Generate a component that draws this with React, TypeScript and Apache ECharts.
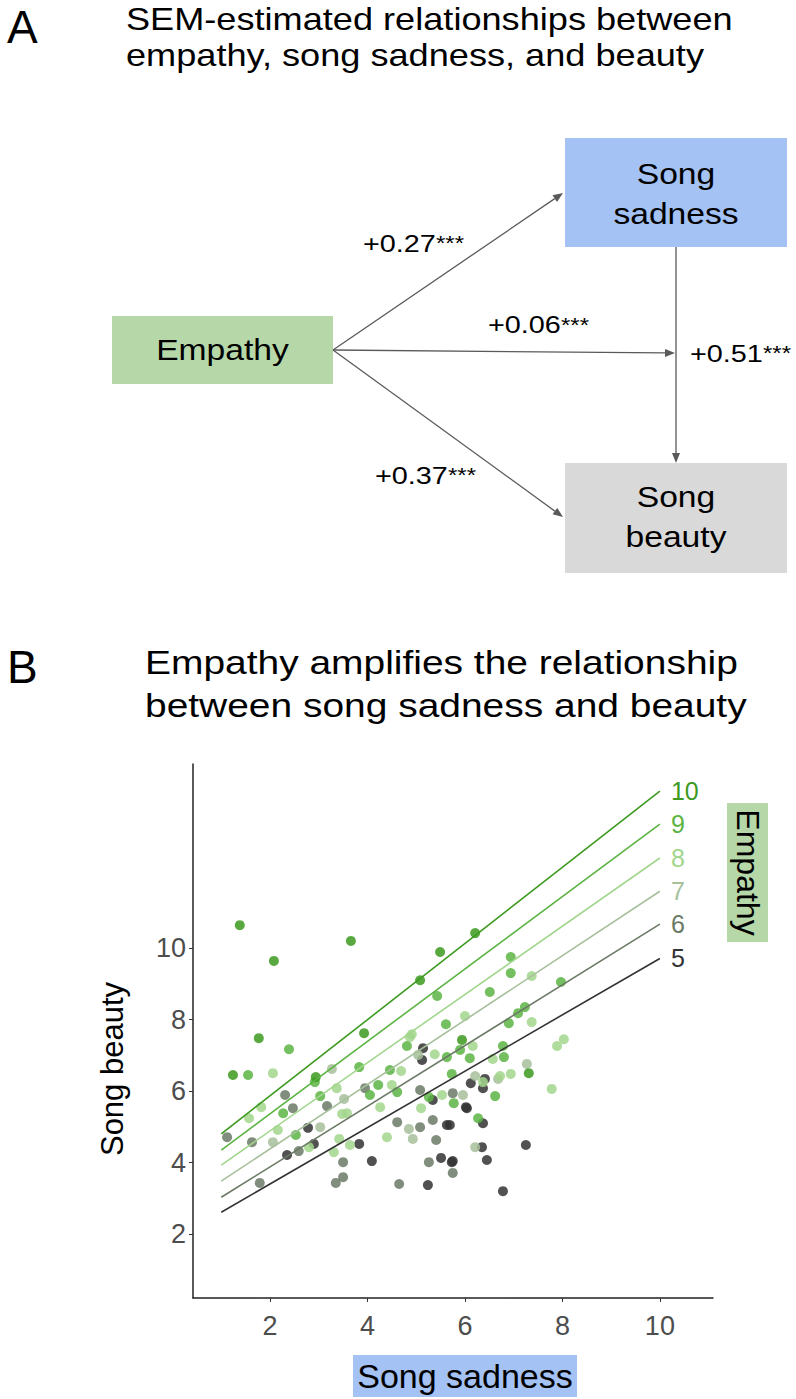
import React, { useEffect, useRef } from "react";
import * as echarts from "echarts";

// ---------- data ----------
const xTicks = [2, 4, 6, 8, 10];
const yTicks = [2, 4, 6, 8, 10];
const empathyLevels = [5, 6, 7, 8, 9, 10];
const fitX = [1, 10];
// predicted beauty at sadness = 1 and sadness = 10, per empathy level (5..10)
const fitAtStart = [2.61, 3.03, 3.48, 3.93, 4.35, 4.8];
const fitAtEnd = [9.71, 10.67, 11.59, 12.52, 13.47, 14.39];

const pts5: [number, number][] = [
  [6.41, 6.34], [6.12, 6.22], [6.37, 6.08], [6.04, 5.52], [6.37, 5.1], [5.69, 5.05],
  [6.35, 4.43], [7.25, 4.49], [5.75, 4.04], [6.45, 4.07], [6.78, 3.2], [2.35, 4.21],
  [2.78, 4.97], [2.9, 4.52], [3.83, 4.52], [4.09, 4.04], [5.14, 7.2], [5.12, 6.87],
  [5.24, 3.37], [5.34, 5.75], [5.51, 4.13], [5.63, 5.05], [5.73, 4.01], [6.02, 5.55],
];
const pts6: [number, number][] = [
  [5.75, 5.94], [5.75, 3.71], [1.12, 4.71], [2.31, 5.89], [2.47, 5.52], [1.63, 4.57],
  [1.79, 3.43], [2.59, 4.32], [3.17, 5.58], [3.5, 4.01], [3.5, 3.59], [3.35, 3.43],
  [3.95, 6.08], [4.61, 5.13], [4.65, 3.4], [5.08, 6.03], [5.08, 4.99], [5.26, 4.01],
  [5.41, 4.63], [5.34, 5.19],
];
const pts7: [number, number][] = [
  [6.21, 6.42], [6.68, 6.34], [7.27, 6.76], [5.96, 5.89], [6.21, 4.43], [2.06, 4.57],
  [3.03, 4.99], [3.27, 6.62], [3.52, 5.78], [4.93, 4.66], [5.04, 7.01], [4.85, 4.94],
];
const pts8: [number, number][] = [
  [7.37, 9.22], [6.0, 8.1], [7.37, 7.93], [6.16, 7.26], [6.57, 6.9], [7.89, 7.26],
  [8.03, 7.45], [6.37, 6.25], [6.72, 6.42], [6.94, 6.48], [7.78, 6.06], [2.06, 6.5],
  [1.57, 5.24], [1.82, 5.55], [2.16, 4.91], [2.8, 4.43], [3.37, 6.08], [3.48, 5.36],
  [3.58, 5.38], [3.31, 4.29], [3.64, 4.49], [4.26, 5.55], [4.4, 4.71], [4.5, 6.17],
  [4.69, 6.56], [4.87, 7.51], [4.91, 7.59], [5.1, 5.52], [5.38, 7.03], [5.53, 5.89],
  [3.42, 4.66],
];
const pts9: [number, number][] = [
  [5.43, 8.66], [6.51, 8.77], [6.94, 9.75], [6.94, 9.3], [7.97, 9.05], [7.23, 8.35],
  [7.09, 8.18], [6.9, 7.9], [5.9, 7.15], [6.78, 7.26], [6.8, 6.95], [6.1, 6.92],
  [5.73, 6.48], [6.62, 5.86], [5.77, 5.66], [6.27, 5.24], [2.39, 7.17], [1.55, 6.45],
  [2.27, 5.38], [2.53, 4.77], [2.92, 6.25], [3.03, 5.86], [3.83, 6.67], [4.05, 5.89],
  [4.22, 6.17], [4.46, 6.59], [4.61, 5.97], [4.81, 7.26], [5.26, 5.83], [5.63, 6.95],
  [5.61, 7.87],
];
const pts10: [number, number][] = [
  [1.38, 10.64], [2.08, 9.64], [3.66, 10.2], [5.49, 9.89], [6.21, 10.42], [5.08, 9.1],
  [5.94, 7.43], [7.31, 6.5], [1.77, 7.48], [3.93, 7.62], [1.24, 6.45], [2.94, 6.39],
];
const pointsByLevel = [pts5, pts6, pts7, pts8, pts9, pts10];

// SEM path coefficients: empathy->sadness, empathy->beauty (direct, to arrow), sadness->beauty, empathy->beauty
const pathCoefs = ["+0.27", "+0.06", "+0.51", "+0.37"];
const pathStars = ["***", "***", "***", "***"];

// ---------- styles ----------
const FONT = "'Liberation Sans', Arial, Helvetica, sans-serif";
const levelColors = ["#333333", "#6b7a66", "#a6c09b", "#a2d68c", "#5cb443", "#3c9a1f"];

function arrow(x1: number, y1: number, x2: number, y2: number) {
  const dx = x2 - x1;
  const dy = y2 - y1;
  const len = Math.sqrt(dx * dx + dy * dy);
  const ux = dx / len;
  const uy = dy / len;
  const hl = 10;
  const hw = 4;
  const bx = x2 - ux * hl;
  const by = y2 - uy * hl;
  return [
    {
      type: "line",
      shape: { x1, y1, x2: bx, y2: by },
      style: { stroke: "#5a5a5a", lineWidth: 1.3 },
    },
    {
      type: "polygon",
      shape: {
        points: [
          [x2, y2],
          [bx - uy * hw, by + ux * hw],
          [bx + uy * hw, by - ux * hw],
        ],
      },
      style: { fill: "#5a5a5a" },
    },
  ];
}

function txt(text: string, x: number, y: number, size: number, opts: any = {}) {
  return {
    type: "text",
    x,
    y,
    rotation: opts.rotation || 0,
    scaleX: opts.scaleX || 1,
    style: {
      text,
      x: 0,
      y: 0,
      fontSize: size,
      fontFamily: FONT,
      fill: opts.fill || "#000",
      align: opts.align || "left",
      verticalAlign: "middle",
    },
  };
}

export default function App() {
  const ref = useRef<HTMLDivElement>(null);

  useEffect(() => {
    if (!ref.current) return;
    const chart = echarts.init(ref.current, undefined, { renderer: "svg" });

    const coefPos = [
      [363, 243.5],
      [488, 325],
      [690, 353.5],
      [375, 475.5],
    ];

    const graphic: any[] = [
      // Panel A
      txt("A", 7, 26.5, 46),
      txt("SEM-estimated relationships between", 126, 18.7, 32, { scaleX: 1.13 }),
      txt("empathy, song sadness, and beauty", 126, 55.2, 32, { scaleX: 1.13 }),
      { type: "rect", shape: { x: 565, y: 138, width: 222, height: 109 }, style: { fill: "#a4c2f4" } },
      { type: "rect", shape: { x: 112, y: 316, width: 221, height: 68 }, style: { fill: "#b6d7a8" } },
      { type: "rect", shape: { x: 565, y: 463, width: 222, height: 110 }, style: { fill: "#d9d9d9" } },
      txt("Song", 676, 174, 29, { scaleX: 1.16, align: "center" }),
      txt("sadness", 676, 214.6, 29, { scaleX: 1.16, align: "center" }),
      txt("Empathy", 222.5, 350, 29, { scaleX: 1.16, align: "center" }),
      txt("Song", 676, 497.5, 29, { scaleX: 1.16, align: "center" }),
      txt("beauty", 676, 537.6, 29, { scaleX: 1.16, align: "center" }),
      ...arrow(333, 350, 563, 193),
      ...arrow(333, 350, 675, 353),
      ...arrow(333, 350, 563, 517),
      ...arrow(676, 247, 676, 463),
      ...pathCoefs.map((c, i) => txt(c, coefPos[i][0], coefPos[i][1], 24, { scaleX: 1.2 })),
      ...pathStars.map((s, i) => txt(s, coefPos[i][0] + 73, coefPos[i][1], 20, { scaleX: 1.2 })),
      // Panel B
      txt("B", 7, 666.5, 46),
      txt("Empathy amplifies the relationship", 145, 663, 33, { scaleX: 1.18 }),
      txt("between song sadness and beauty", 145, 706, 33, { scaleX: 1.18 }),
      { type: "rect", shape: { x: 727, y: 803, width: 41, height: 139 }, style: { fill: "#b6d7a8" } },
      txt("Empathy", 747.5, 872.5, 32, { rotation: -Math.PI / 2, align: "center" }),
      txt("Song beauty", 112, 1069, 31, { rotation: Math.PI / 2, align: "center" }),
      { type: "rect", shape: { x: 353, y: 1355, width: 224, height: 42 }, style: { fill: "#a4c2f4" } },
      txt("Song sadness", 465, 1376, 34, { align: "center" }),
    ];

    const scatterSeries = empathyLevels.map((lvl, i) => ({
      type: "scatter",
      name: "pts" + lvl,
      data: pointsByLevel[i],
      symbolSize: 10,
      itemStyle: { color: levelColors[i], opacity: 0.85 },
      silent: true,
      z: 2,
    }));

    const lineSeries = empathyLevels.map((lvl, i) => ({
      type: "line",
      name: "fit" + lvl,
      data: [
        [fitX[0], fitAtStart[i]],
        [fitX[1], fitAtEnd[i]],
      ],
      symbol: "none",
      lineStyle: { color: levelColors[i], width: 1.6 },
      silent: true,
      z: 3,
      endLabel: {
        show: true,
        formatter: () => String(lvl),
        color: levelColors[i],
        fontSize: 25,
        fontFamily: FONT,
        distance: 11,
      },
    }));

    chart.setOption({
      animation: false,
      backgroundColor: "#ffffff",
      grid: { left: 193, top: 764, width: 520, height: 534, containLabel: false },
      xAxis: {
        type: "value",
        min: 0.42,
        max: 11.09,
        splitLine: { show: false },
        axisLine: { show: true, lineStyle: { color: "#222", width: 1.5 } },
        axisTick: { show: true, length: 4, customValues: xTicks, lineStyle: { color: "#333", width: 1 } },
        axisLabel: {
          customValues: xTicks,
          fontSize: 27,
          fontFamily: FONT,
          color: "#4d4d4d",
          margin: 14,
        },
      },
      yAxis: {
        type: "value",
        min: 0.21,
        max: 15.15,
        splitLine: { show: false },
        axisLine: { show: true, lineStyle: { color: "#222", width: 1.5 } },
        axisTick: { show: true, length: 4, customValues: yTicks, lineStyle: { color: "#333", width: 1 } },
        axisLabel: {
          customValues: yTicks,
          fontSize: 27,
          fontFamily: FONT,
          color: "#4d4d4d",
          margin: 7,
        },
      },
      graphic,
      series: [...scatterSeries, ...lineSeries],
    });

    return () => chart.dispose();
  }, []);

  return (
    <div
      ref={ref}
      style={{ position: "absolute", left: 0, top: 0, width: 796, height: 1399, background: "#fff" }}
    />
  );
}
